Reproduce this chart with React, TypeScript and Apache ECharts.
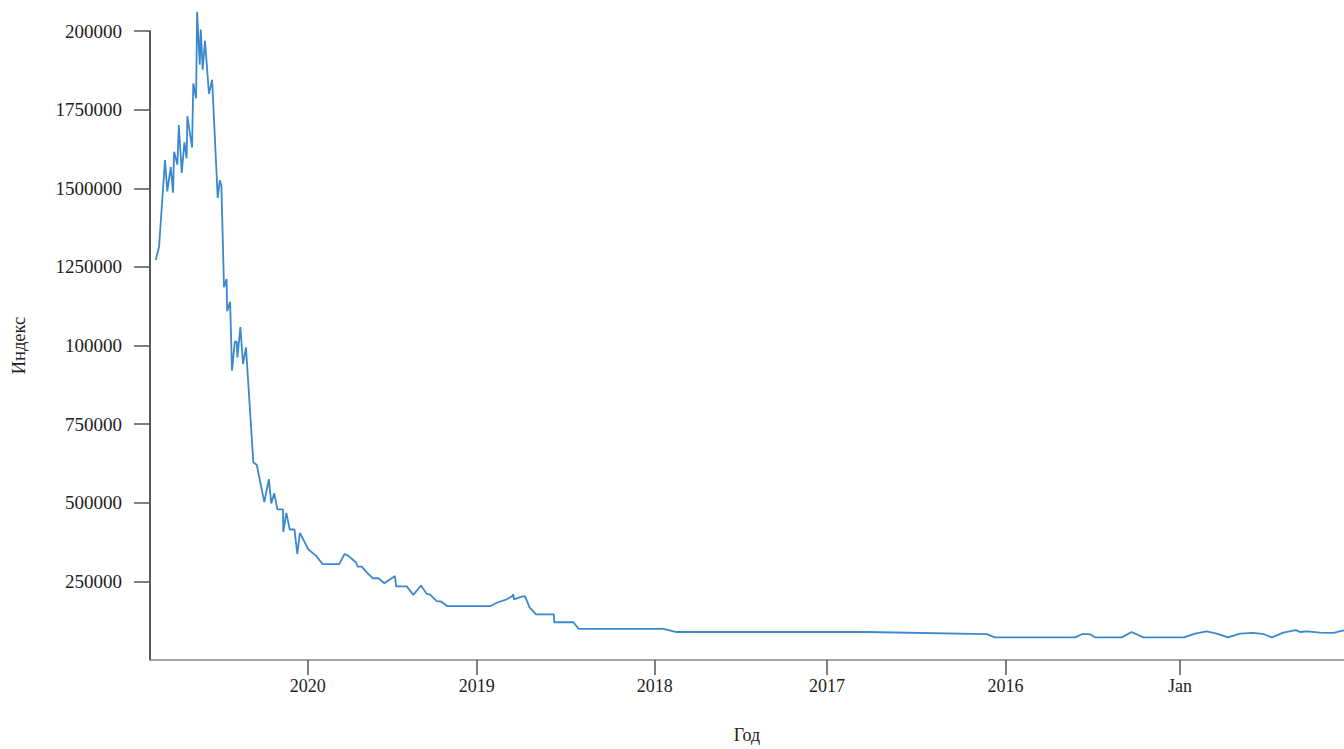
import React, { useEffect, useRef } from "react";
import * as echarts from "echarts";

// Decimal-year positions (axis runs right-to-left: latest on the left)
const yearPositions: number[] = [
  2020.871, 2020.852, 2020.818, 2020.805, 2020.785, 2020.772, 2020.766, 2020.747, 2020.739, 2020.722,
  2020.707, 2020.694, 2020.690, 2020.663, 2020.656, 2020.640, 2020.634, 2020.619, 2020.613, 2020.602,
  2020.589, 2020.566, 2020.548, 2020.516, 2020.504, 2020.495, 2020.480, 2020.465, 2020.462, 2020.445,
  2020.434, 2020.418, 2020.407, 2020.403, 2020.386, 2020.371, 2020.354, 2020.312, 2020.292, 2020.249,
  2020.223, 2020.209, 2020.192, 2020.174, 2020.142, 2020.140, 2020.123, 2020.103, 2020.076, 2020.060,
  2020.045, 2019.997, 2019.952, 2019.915, 2019.820, 2019.789, 2019.767, 2019.723, 2019.714, 2019.691,
  2019.659, 2019.628, 2019.595, 2019.561, 2019.500, 2019.494, 2019.433, 2019.395, 2019.351, 2019.318,
  2019.299, 2019.261, 2019.236, 2019.200, 2018.955, 2018.917, 2018.860, 2018.831, 2018.822, 2018.818,
  2018.784, 2018.755, 2018.730, 2018.692, 2018.589, 2018.588, 2018.478, 2018.447, 2017.962, 2017.886,
  2016.797, 2016.109, 2016.062, 2015.603, 2015.565, 2015.517, 2015.489, 2015.336, 2015.279, 2015.212,
  2014.979, 2014.916, 2014.849, 2014.791, 2014.727, 2014.658, 2014.582, 2014.520, 2014.475, 2014.410,
  2014.337, 2014.314, 2014.274, 2014.200, 2014.123, 2014.062,
];

const indexValues: number[] = [
  1272000, 1315000, 1590000, 1490000, 1567000, 1486000, 1616000, 1575000, 1701000, 1549000,
  1646000, 1595000, 1729000, 1630000, 1833000, 1786000, 2061000, 1893000, 2005000, 1877000,
  1969000, 1800000, 1845000, 1469000, 1525000, 1509000, 1185000, 1211000, 1109000, 1139000,
  920000, 1012000, 1012000, 962000, 1059000, 941000, 994000, 629000, 620000, 502000,
  575000, 498000, 530000, 479000, 479000, 407000, 468000, 415000, 415000, 337000,
  404000, 352000, 331000, 305000, 305000, 337000, 331000, 310000, 297000, 297000,
  277000, 260000, 260000, 244000, 267000, 234000, 234000, 207000, 237000, 210000,
  208000, 187000, 186000, 171000, 171000, 182000, 193000, 202000, 209000, 193000,
  200000, 203000, 168000, 145000, 145000, 120000, 120000, 99000, 99000, 89000,
  89000, 82000, 72000, 72000, 82000, 82000, 72000, 72000, 89000, 72000,
  72000, 84000, 91000, 84000, 72000, 84000, 86000, 82000, 72000, 87000,
  95000, 89000, 91000, 87000, 86000, 94000,
];

const xTickValues: number[] = [2020.0, 2019.032, 2018.011, 2017.024, 2016.002, 2015.002];
const xTickLabels: string[] = ["2020", "2019", "2018", "2017", "2016", "Jan"];
const xRange: number[] = [2014.062, 2020.904];

const yTickValues: number[] = [250000, 500000, 750000, 1000000, 1250000, 1500000, 1750000, 2000000];
const yTickLabels: string[] = ["250000", "500000", "750000", "100000", "1250000", "1500000", "1750000", "200000"];
const yRange: number[] = [0, 2000000];

const FONT = "'Liberation Serif', 'Times New Roman', serif";

function labelFor(values: number[], labels: string[], v: number): string {
  let best = -1;
  let bestD = Infinity;
  values.forEach((t, i) => {
    const d = Math.abs(t - v);
    if (d < bestD) {
      bestD = d;
      best = i;
    }
  });
  return best >= 0 && bestD < 1e-6 * Math.max(1, Math.abs(v)) + 1e-3 ? labels[best] : "";
}

export default function App() {
  const ref = useRef<HTMLDivElement>(null);

  useEffect(() => {
    if (!ref.current) return;
    const chart = echarts.init(ref.current, null, { renderer: "svg" });
    const data = yearPositions.map((x, i) => [x, indexValues[i]]);
    chart.setOption({
      animation: false,
      backgroundColor: "#ffffff",
      grid: { left: 150, right: 0, top: 31, bottom: 84, containLabel: false },
      xAxis: {
        type: "value",
        inverse: true,
        min: xRange[0],
        max: xRange[1],
        name: "Год",
        nameLocation: "middle",
        nameGap: 66,
        nameTextStyle: { fontFamily: FONT, fontSize: 18, color: "#222" },
        axisLine: { show: true, lineStyle: { color: "#888", width: 1.5 } },
        axisTick: {
          show: true,
          length: 15,
          customValues: xTickValues,
          lineStyle: { color: "#555", width: 1.5 },
        },
        axisLabel: {
          customValues: xTickValues,
          margin: 17,
          fontFamily: FONT,
          fontSize: 18,
          color: "#222",
          formatter: (v: number) => labelFor(xTickValues, xTickLabels, v),
        },
        splitLine: { show: false },
      },
      yAxis: {
        type: "value",
        min: yRange[0],
        max: yRange[1],
        name: "Индекс",
        nameLocation: "middle",
        nameGap: 122,
        nameRotate: 90,
        nameTextStyle: { fontFamily: FONT, fontSize: 18.5, color: "#222" },
        axisLine: { show: true, lineStyle: { color: "#222", width: 1.5 } },
        axisTick: {
          show: true,
          length: 16,
          customValues: yTickValues,
          lineStyle: { color: "#555", width: 1.5 },
        },
        axisLabel: {
          customValues: yTickValues,
          margin: 28,
          fontFamily: FONT,
          fontSize: 19,
          color: "#222",
          formatter: (v: number) => labelFor(yTickValues, yTickLabels, v),
        },
        splitLine: { show: false },
      },
      series: [
        {
          type: "line",
          data,
          showSymbol: false,
          clip: false,
          lineStyle: { color: "#3a89cf", width: 1.8 },
          itemStyle: { color: "#3a89cf" },
        },
      ],
    });
    return () => chart.dispose();
  }, []);

  return (
    <div
      ref={ref}
      style={{ position: "fixed", left: 0, top: 0, width: "1344px", height: "749px" }}
    />
  );
}
